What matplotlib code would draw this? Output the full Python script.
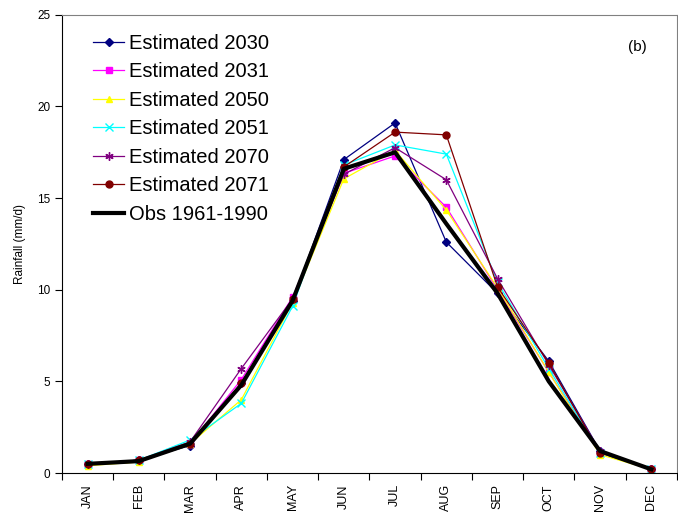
import matplotlib
matplotlib.use("Agg")
import matplotlib.pyplot as plt
import numpy as np

months = ["JAN", "FEB", "MAR", "APR", "MAY", "JUN", "JUL", "AUG", "SEP", "OCT", "NOV", "DEC"]
est_2030 = [0.5, 0.7, 1.5, 4.9, 9.4, 17.1, 19.1, 12.6, 9.8, 6.1, 1.2, 0.2]
est_2031 = [0.5, 0.7, 1.6, 5.1, 9.6, 16.35, 17.3, 14.5, 10.0, 5.5, 1.1, 0.2]
est_2050 = [0.4, 0.6, 1.6, 4.0, 9.3, 16.05, 17.6, 14.35, 10.1, 5.5, 1.0, 0.2]
est_2051 = [0.5, 0.7, 1.8, 3.8, 9.1, 16.8, 17.9, 17.4, 10.4, 5.7, 1.1, 0.2]
est_2070 = [0.5, 0.7, 1.7, 5.7, 9.5, 16.3, 17.75, 16.0, 10.6, 5.9, 1.2, 0.2]
est_2071 = [0.5, 0.7, 1.6, 4.9, 9.5, 16.7, 18.6, 18.45, 10.15, 6.0, 1.1, 0.2]
obs = [0.5, 0.65, 1.6, 4.8, 9.4, 16.6, 17.5, 13.6, 9.8, 5.0, 1.2, 0.2]

series = [
    ("Estimated 2030", est_2030, "#000080", "D", 4),
    ("Estimated 2031", est_2031, "#FF00FF", "s", 5),
    ("Estimated 2050", est_2050, "#FFFF00", "^", 5),
    ("Estimated 2051", est_2051, "#00FFFF", "x", 6),
    ("Estimated 2070", est_2070, "#800080", (6, 2, 0), 6),
    ("Estimated 2071", est_2071, "#800000", "o", 5),
]

plt.rcParams['font.family'] = ['Liberation Sans', 'DejaVu Sans']

fig = plt.figure(figsize=(6.78, 5.16), dpi=100)
ax = fig.add_axes([0.0914, 0.0833, 0.907, 0.888])

x = np.arange(len(months))
for label, vals, col, mk, ms in series:
    ax.plot(x, vals, color=col, marker=mk, markersize=ms, linewidth=0.9,
            markeredgewidth=1.0, label=label)
ax.plot(x, obs, color="black", linewidth=3.0, label="Obs 1961-1990")

ax.set_xlim(-0.5, 11.5)
ax.set_ylim(0, 25)
ax.set_yticks([0, 5, 10, 15, 20, 25])
ax.set_xticks(np.arange(-0.5, 12, 1.0))
ax.set_xticklabels([])
ax.set_xticks(x, minor=True)
ax.set_xticklabels(months, minor=True, rotation=90, fontsize=9)
ax.tick_params(axis='x', which='minor', length=0, pad=8)
ax.tick_params(axis='x', which='major', direction='out', length=5, width=0.8)
ax.tick_params(axis='y', direction='out', length=5, width=0.8, labelsize=8.5)
ax.set_ylabel("Rainfall (mm/d)", fontsize=8.5, labelpad=8)

for s in ["top", "right"]:
    ax.spines[s].set_color("#808080")
for s in ["left", "bottom"]:
    ax.spines[s].set_color("black")

ax.text(0.935, 0.93, "(b)", transform=ax.transAxes, fontsize=11, ha="center", va="center")

leg = ax.legend(loc="upper left", frameon=False, fontsize=14.5, handlelength=1.5,
                handletextpad=0.25, labelspacing=0.47, borderaxespad=0.55,
                bbox_to_anchor=(0.02, 1.0))

fig.savefig("out.png", dpi=100)
